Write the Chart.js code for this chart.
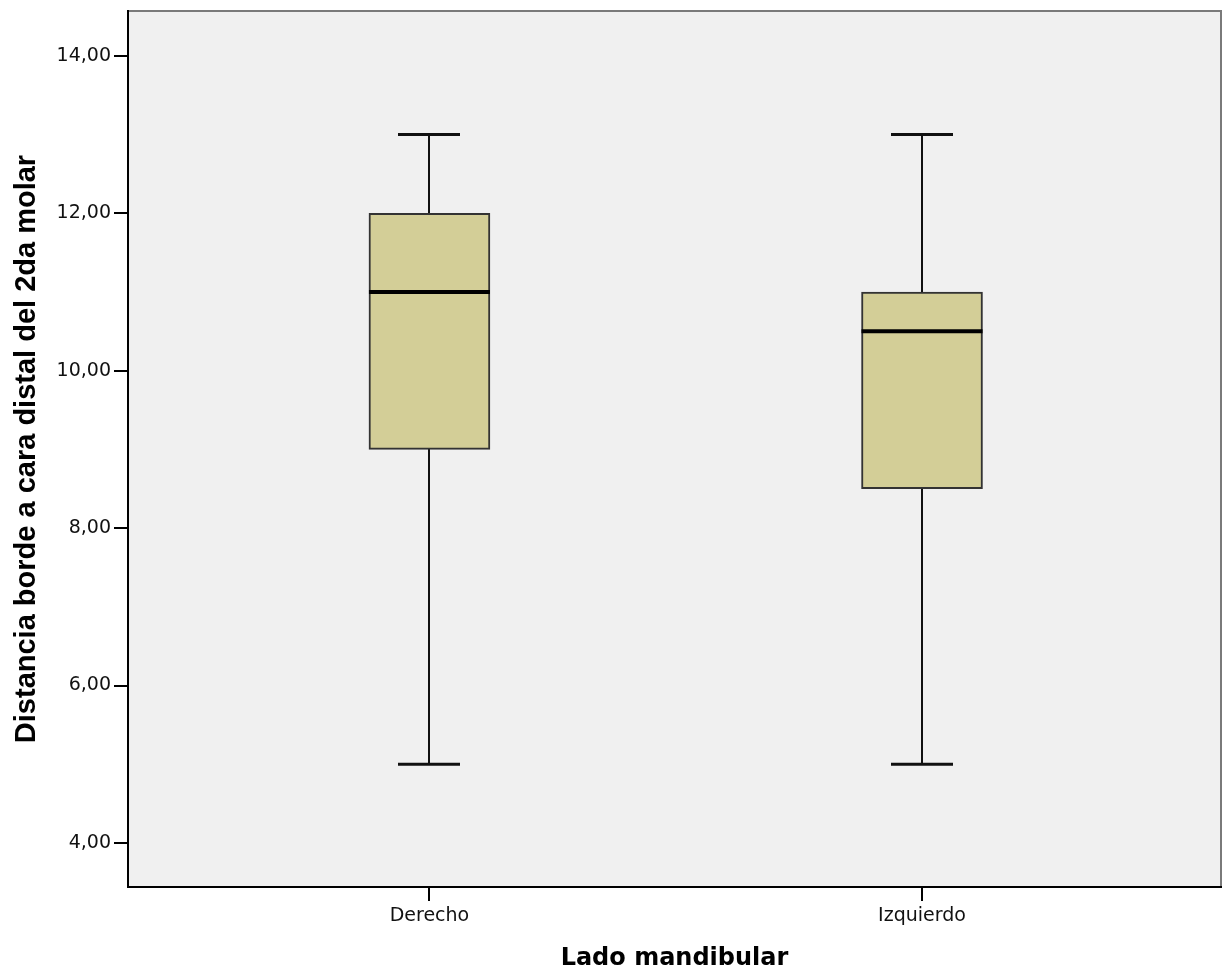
<!DOCTYPE html>
<html>
<head>
<meta charset="utf-8">
<script src="https://cdn.jsdelivr.net/npm/chart.js@4"></script>
<style>
  body { margin: 0; background: #fff; }
  canvas { display: block; }
</style>
</head>
<body>
<canvas id="boxplot" width="1222" height="978"></canvas>
<script>
// ==================== DONNÉES DU DIAGRAMME EN BOÎTE ====================
const categories = ["Derecho", "Izquierdo"];
const minimos = [5, 5];
const q1 = [9, 8.5];
const medianas = [11, 10.5];
const q3 = [12, 11];
const maximos = [13, 13];
const yTicks = [4, 6, 8, 10, 12, 14];

const BOX_WIDTH = 121;
const CAP_WIDTH = 62;

// FOND + CADRE DE LA ZONE DU GRAPHIQUE
const fondPlugin = {
  id: "fond",
  beforeDraw(chart) {
    const { ctx, chartArea: a } = chart;
    ctx.save();
    ctx.fillStyle = "#ffffff";
    ctx.fillRect(0, 0, chart.width, chart.height);
    ctx.fillStyle = "#f0f0f0";
    ctx.fillRect(a.left, a.top, a.right - a.left, a.bottom - a.top);
    ctx.strokeStyle = "#7a7a7a";
    ctx.lineWidth = 2;
    ctx.strokeRect(a.left, a.top, a.right - a.left, a.bottom - a.top);
    ctx.restore();
  }
};

// MOUSTACHES, EXTRÉMITÉS ET MÉDIANES
const boxPlugin = {
  id: "moustaches",
  beforeDatasetsDraw(chart) {
    const { ctx, scales: { x, y } } = chart;
    ctx.save();
    ctx.strokeStyle = "#111";
    categories.forEach((c, i) => {
      const cx = Math.round(x.getPixelForValue(i + 1));
      const yMin = y.getPixelForValue(minimos[i]);
      const yMax = y.getPixelForValue(maximos[i]);
      ctx.lineWidth = 2;
      ctx.beginPath();
      ctx.moveTo(cx, yMin);
      ctx.lineTo(cx, yMax);
      ctx.stroke();
      ctx.lineWidth = 3;
      ctx.beginPath();
      ctx.moveTo(cx - CAP_WIDTH / 2, yMin);
      ctx.lineTo(cx + CAP_WIDTH / 2, yMin);
      ctx.moveTo(cx - CAP_WIDTH / 2, yMax);
      ctx.lineTo(cx + CAP_WIDTH / 2, yMax);
      ctx.stroke();
    });
    ctx.restore();
  },
  afterDatasetsDraw(chart) {
    const { ctx, scales: { x, y } } = chart;
    ctx.save();
    ctx.strokeStyle = "#000";
    ctx.lineWidth = 4;
    categories.forEach((c, i) => {
      const cx = x.getPixelForValue(i + 1);
      const ym = y.getPixelForValue(medianas[i]);
      ctx.beginPath();
      ctx.moveTo(cx - BOX_WIDTH / 2, ym);
      ctx.lineTo(cx + BOX_WIDTH / 2, ym);
      ctx.stroke();
    });
    ctx.restore();
  }
};

const tickFont = { family: "DejaVu Sans", size: 19 };

new Chart(document.getElementById("boxplot"), {
  type: "bar",
  data: {
    datasets: [{
      data: categories.map((c, i) => ({ x: i + 1, y: [q1[i], q3[i]] })),
      backgroundColor: "#d3ce97",
      borderColor: "#333333",
      borderWidth: 2,
      borderSkipped: false,
      barThickness: BOX_WIDTH
    }]
  },
  options: {
    responsive: false,
    animation: false,
    devicePixelRatio: 1,
    layout: { padding: { top: 11, right: 1, left: 0, bottom: 0 } },
    plugins: {
      legend: { display: false },
      tooltip: { enabled: false }
    },
    scales: {
      x: {
        type: "linear",
        offset: false,
        min: 0.388,
        max: 2.607,
        afterBuildTicks: s => { s.ticks = categories.map((c, i) => ({ value: i + 1 })); },
        afterFit: s => { s.height = 91; s.paddingLeft = 0; s.paddingRight = 0; },
        grid: { offset: false, drawOnChartArea: false, drawTicks: true, tickLength: 14, color: "#000", lineWidth: 2 },
        border: { display: true, color: "#000", width: 2 },
        ticks: {
          color: "#111",
          font: tickFont,
          padding: 4,
          maxRotation: 0,
          callback: v => categories[v - 1]
        },
        title: {
          display: true,
          text: "Lado mandibular",
          color: "#000",
          font: { family: "DejaVu Sans", size: 24, weight: "bold" },
          padding: { top: 0, bottom: 5 }
        }
      },
      y: {
        min: 3.44,
        max: 14.57,
        afterBuildTicks: s => { s.ticks = yTicks.map(v => ({ value: v })); },
        afterFit: s => { s.width = 128; s.paddingTop = 0; s.paddingBottom = 0; },
        grid: { drawOnChartArea: false, drawTicks: true, tickLength: 14, color: "#000", lineWidth: 2 },
        border: { display: true, color: "#000", width: 2 },
        ticks: {
          color: "#111",
          font: tickFont,
          padding: 3,
          callback: v => v.toFixed(2).replace(".", ",")
        },
        title: {
          display: true,
          text: "Distancia borde a cara distal del 2da molar",
          color: "#000",
          font: { family: "Liberation Sans", size: 29, weight: "bold" },
          padding: { top: 10, bottom: 0 }
        }
      }
    }
  },
  plugins: [fondPlugin, boxPlugin]
});
</script>
</body>
</html>
